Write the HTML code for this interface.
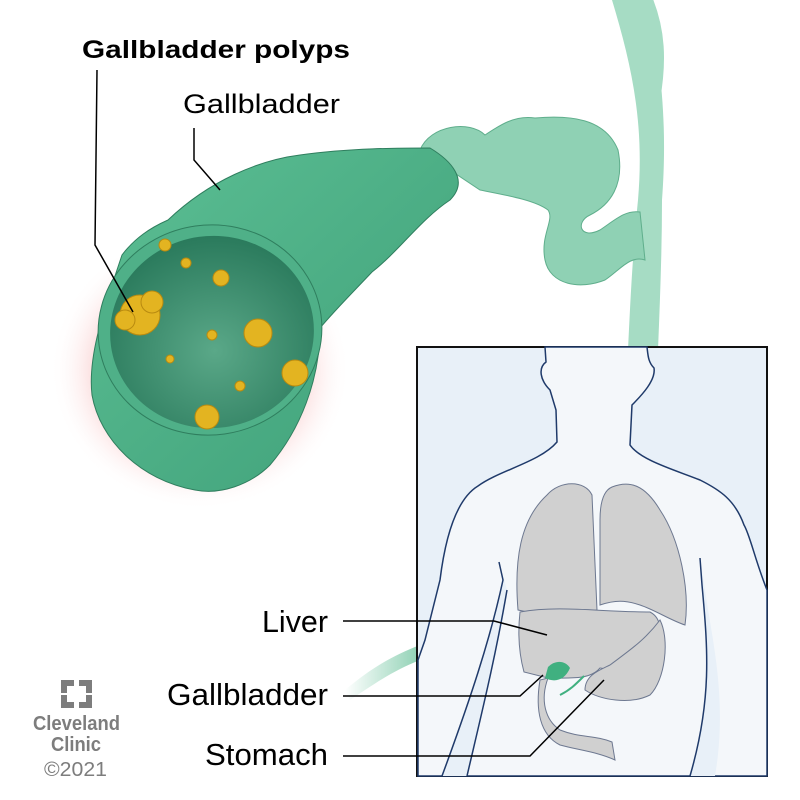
<!DOCTYPE html>
<html><head><meta charset="utf-8"><style>
html,body{margin:0;padding:0;background:#fff;}
svg{display:block;font-family:"Liberation Sans",sans-serif;}
</style></head><body>
<svg width="800" height="800" viewBox="0 0 800 800" xmlns="http://www.w3.org/2000/svg">
<defs>
<radialGradient id="glow" cx="0.5" cy="0.5" r="0.5">
<stop offset="0.55" stop-color="#f4a0a0" stop-opacity="0.8"/>
<stop offset="1" stop-color="#ffffff" stop-opacity="0"/>
</radialGradient>
<linearGradient id="body" x1="0" y1="0" x2="1" y2="1">
<stop offset="0" stop-color="#5cbf94"/>
<stop offset="1" stop-color="#3e9f78"/>
</linearGradient>
<radialGradient id="inner" cx="0.5" cy="0.6" r="0.6">
<stop offset="0" stop-color="#5aa888"/>
<stop offset="1" stop-color="#2a7a5c"/>
</radialGradient>
<linearGradient id="duct2" x1="1" y1="0" x2="0" y2="0">
<stop offset="0" stop-color="#8fd1b4"/>
<stop offset="1" stop-color="#8fd1b4" stop-opacity="0"/>
</linearGradient>
</defs>

<ellipse cx="200" cy="370" rx="150" ry="140" fill="url(#glow)"/>

<path d="M612 0 C630 60 645 120 638 200 C632 260 630 310 628 350 L658 350 C660 300 662 250 662 200 C668 120 660 60 648 0 Z" fill="#a6dcc4"/>
<path d="M648 0 C660 30 662 60 655 100" stroke="#a6dcc4" stroke-width="10" fill="none"/>

<path d="M420 150 C430 125 470 120 485 135 C500 125 515 115 535 118 C570 115 605 118 618 150 C625 185 610 205 590 215 C575 222 580 240 600 230 C615 220 625 210 640 212 L645 260 C630 255 620 270 605 280 C580 290 550 285 545 260 C540 235 555 220 548 210 C535 200 505 195 480 190 Z" fill="#8fd1b4" stroke="#5fae8c" stroke-width="1"/>

<path d="M168 220 C210 180 260 160 300 155 C350 148 400 148 430 148 C450 160 470 180 450 200 C420 220 400 250 372 272 C355 290 335 310 320 328 C320 380 300 430 270 465 C250 485 220 495 195 490 C140 480 100 440 92 395 C88 360 100 320 122 255 C135 238 150 228 168 220 Z" fill="url(#body)" stroke="#2f7e5e" stroke-width="1"/>

<ellipse cx="210" cy="330" rx="112" ry="105" transform="rotate(-8 210 330)" fill="#4fb088" stroke="#2f7e5e" stroke-width="1"/>
<ellipse cx="212" cy="332" rx="102" ry="96" transform="rotate(-8 212 332)" fill="url(#inner)"/>

<g fill="#e3b421" stroke="#b88a10" stroke-width="1">
<circle cx="140" cy="315" r="20"/><circle cx="125" cy="320" r="10"/><circle cx="152" cy="302" r="11"/>
<circle cx="165" cy="245" r="6"/>
<circle cx="186" cy="263" r="5"/>
<circle cx="221" cy="278" r="8"/>
<circle cx="258" cy="333" r="14"/>
<circle cx="212" cy="335" r="5"/>
<circle cx="170" cy="359" r="4"/>
<circle cx="240" cy="386" r="5"/>
<circle cx="295" cy="373" r="13"/>
<circle cx="207" cy="417" r="12"/>
</g>

<g stroke="#000" stroke-width="1.5" fill="none">
<path d="M97 70 L95 245 L133 312"/>
<path d="M194 128 L194 160 L220 190"/>
</g>
<text x="82" y="58" font-size="25" font-weight="bold" fill="#000" textLength="268" lengthAdjust="spacingAndGlyphs">Gallbladder polyps</text>
<text x="183" y="113" font-size="27" fill="#000" textLength="157" lengthAdjust="spacingAndGlyphs">Gallbladder</text>

<path d="M345 690 C375 665 395 655 420 645 L420 660 C395 670 380 680 350 700 Z" fill="url(#duct2)"/>

<rect x="417" y="347" width="350" height="429" fill="#e8f0f8" stroke="#111" stroke-width="2"/>
<path d="M545 347 L546 362 C538 368 540 380 550 390 L556 410 L557 442 C540 462 500 470 478 486 C455 500 445 540 440 580 L425 640 L418 660 L418 776 L767 776 L767 590 C755 560 750 535 744 525 C735 500 720 490 700 480 C675 470 640 460 630 445 L632 405 C642 395 656 380 654 368 C648 362 648 355 647 347 Z" fill="#f4f7fa" stroke="#1f3a6a" stroke-width="1.5"/>
<path d="M499 562 L503 580 C490 640 470 700 442 776 L467 776 C480 720 495 660 507 590 Z" fill="#e8f0f8"/>
<path d="M499 562 L503 580 C490 640 470 700 442 776 M507 590 C495 660 480 720 467 776" fill="none" stroke="#1f3a6a" stroke-width="1.5"/>
<path d="M700 558 L702 585 C708 650 712 700 690 776 L715 776 C728 700 712 640 705 590 Z" fill="#e8f0f8"/>
<path d="M700 558 L702 585 C708 650 712 700 690 776" fill="none" stroke="#1f3a6a" stroke-width="1.5"/>

<g fill="#d0d0d0" stroke="#6d7890" stroke-width="1">
<path d="M547 495 C560 480 585 480 592 495 L597 610 C580 612 560 620 518 610 C514 560 520 520 547 495Z"/>
<path d="M612 487 C630 480 645 485 660 510 C680 540 690 590 685 625 C670 620 655 610 640 605 C625 600 615 600 600 605 L600 520 C600 500 605 490 612 487Z"/>
<path d="M520 612 C560 605 600 612 650 612 C665 620 660 640 650 650 C640 665 620 672 600 668 C590 680 570 678 548 678 L524 672 C518 650 518 630 520 612Z"/>
<path d="M660 620 C670 640 665 680 650 695 C630 705 600 700 585 690 C585 675 600 670 610 665 C630 650 645 640 660 620Z"/>
<path d="M548 678 C540 700 545 720 560 730 C580 738 595 735 612 742 L615 760 C598 752 578 750 560 745 C540 735 535 710 540 680Z"/>
</g>
<path d="M548 667 C555 660 565 660 570 668 C565 680 555 683 545 678Z" fill="#40b080"/>
<path d="M560 695 C570 690 575 685 584 676" stroke="#40b080" stroke-width="2" fill="none"/>

<g stroke="#000" stroke-width="1.5" fill="none">
<path d="M343 621 L494 621 L547 635"/>
<path d="M343 696 L520 696 L543 675"/>
<path d="M343 756 L530 756 L604 680"/>
</g>
<g font-size="31" fill="#000">
<text x="262" y="632" textLength="66" lengthAdjust="spacingAndGlyphs">Liver</text>
<text x="167" y="705" textLength="161" lengthAdjust="spacingAndGlyphs">Gallbladder</text>
<text x="205" y="765" textLength="123" lengthAdjust="spacingAndGlyphs">Stomach</text>
</g>

<g fill="#7d7d7d">
<path d="M61 680 h13 v6 h-7 v7 h-6 Z"/>
<path d="M92 680 h-13 v6 h7 v7 h6 Z"/>
<path d="M61 708 h13 v-6 h-7 v-7 h-6 Z"/>
<path d="M92 708 h-13 v-6 h7 v-7 h6 Z"/>
<text x="33" y="730" font-size="20" font-weight="bold" textLength="87" lengthAdjust="spacingAndGlyphs">Cleveland</text>
<text x="51" y="751" font-size="20" font-weight="bold" textLength="50" lengthAdjust="spacingAndGlyphs">Clinic</text>
<text x="44" y="776" font-size="20" textLength="63" lengthAdjust="spacingAndGlyphs">©2021</text>
</g>
</svg>
</body></html>
